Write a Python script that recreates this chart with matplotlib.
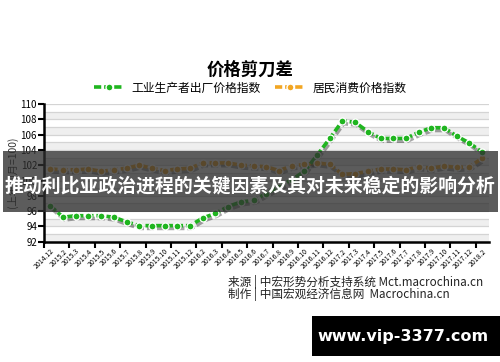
import numpy as np
import matplotlib.pyplot as plt
import matplotlib.patheffects as pe
from matplotlib.lines import Line2D
from matplotlib.patches import Rectangle

plt.rcParams['font.family'] = ['Noto Sans CJK SC', 'DejaVu Sans']

months = ['2014.12',
          '2015.2', '2015.3', '2015.4', '2015.5', '2015.6', '2015.7', '2015.8', '2015.9', '2015.10', '2015.11', '2015.12',
          '2016.2', '2016.3', '2016.4', '2016.5', '2016.6', '2016.7', '2016.8', '2016.9', '2016.10', '2016.11', '2016.12',
          '2017.2', '2017.3', '2017.4', '2017.5', '2017.6', '2017.7', '2017.8', '2017.9', '2017.10', '2017.11', '2017.12',
          '2018.2']
ppi = [96.7,
       95.2, 95.4, 95.4, 95.4, 95.2, 94.6, 94.1, 94.1, 94.1, 94.1, 94.1,
       95.1, 95.7, 96.6, 97.2, 97.4, 98.3, 99.2, 100.1, 101.2, 103.3, 105.5,
       107.8, 107.6, 106.4, 105.5, 105.5, 105.5, 106.3, 106.9, 106.9, 105.8, 104.9,
       103.7]
cpi = [101.5,
       101.4, 101.4, 101.5, 101.2, 101.4, 101.6, 102.0, 101.6, 101.3, 101.5, 101.6,
       102.3, 102.3, 102.3, 102.0, 101.9, 101.8, 101.3, 101.9, 102.1, 102.3, 102.1,
       100.8, 100.9, 101.2, 101.5, 101.5, 101.4, 101.8, 101.6, 101.9, 101.7, 101.8,
       102.9]
series_names = ['工业生产者出厂价格指数', '居民消费价格指数']
yticks = [92, 94, 96, 98, 100, 102, 104, 106, 108, 110]

green = '#1fb51f'
orange = '#f2a623'

fig = plt.figure(figsize=(5, 3.62), dpi=100)
ax = fig.add_axes([0.088, 0.3323, 0.889, 0.3804])

x = np.arange(len(months))

# striped background + grid
for v in range(92, 110, 2):
    ax.axhspan(v, v + 1, color='#efefef', zorder=0, lw=0)
for v in range(92, 111):
    ax.axhline(v, color='#d4d4d4', lw=0.9, zorder=0.5)

for vals, col in [(cpi, orange), (ppi, green)]:
    # shadow under the line only
    ax.plot(x, vals, color=col, lw=2.6, linestyle=(0, (2.0, 0.8)), zorder=2,
            path_effects=[pe.SimpleLineShadow(offset=(1, -2), shadow_color='k', alpha=0.35), pe.Normal()])
    ax.plot(x, vals, linestyle='none', marker='o', markersize=5, markerfacecolor=col,
            markeredgecolor='white', markeredgewidth=0.9, zorder=3)

ax.set_xlim(-0.5, len(months) - 0.5)
ax.set_ylim(92, 110)
ax.set_yticks(yticks)
ax.tick_params(axis='y', labelsize=7, length=4, width=1.5, pad=1, colors='black')
ax.set_xticks(x)
ax.set_xticklabels(months, rotation=45, ha='right', rotation_mode='anchor', fontsize=5)
ax.tick_params(axis='x', length=0, pad=4)
ax.set_xticks(np.arange(-0.5, len(months), 2), minor=True)
ax.tick_params(axis='x', which='minor', length=4, width=1.5)
for s in ['top', 'right']:
    ax.spines[s].set_visible(False)
ax.spines['left'].set_linewidth(1.8)
ax.spines['bottom'].set_linewidth(1.8)

fig.text(0.024, 0.525, '(上年同月=100)', rotation=90, ha='center', va='center', fontsize=7.5, color='#333333')

fig.text(0.5, 0.807, '价格剪刀差', ha='center', va='center', fontsize=12.5, fontweight='bold')
handles = [Line2D([], [], color=c, lw=2.6, linestyle=(0, (2.0, 0.8)), marker='o', markersize=5,
                  markerfacecolor=c, markeredgecolor='white') for c in (green, orange)]
fig.legend(handles, series_names, loc='center', bbox_to_anchor=(0.5, 1 - 88 / 362), ncol=2,
           frameon=False, fontsize=8.5, handlelength=2.6, columnspacing=1.2, handletextpad=0.6)

fig.text(0.456, 1 - 282 / 362, '来源 | 中宏形势分析支持系统 Mct.macrochina.cn', ha='left', va='center',
         fontsize=8.4, color='#222222')
fig.text(0.456, 1 - 294 / 362, '制作 | 中国宏观经济信息网  Macrochina.cn', ha='left', va='center',
         fontsize=8.4, color='#222222')

# overlay banner
fig.add_artist(Rectangle((0.006, 0.415), 0.99, 0.168, transform=fig.transFigure,
                         facecolor='#2e2e2e', alpha=0.78, edgecolor='none', zorder=10))
fig.text(0.5, 0.486, '推动利比亚政治进程的关键因素及其对未来稳定的影响分析', ha='center', va='center',
         fontsize=13.6, fontweight='bold', color='white', zorder=11)

fig.add_artist(Rectangle((0.624, 1 - 356 / 362), 0.376, 40 / 362, transform=fig.transFigure,
                         facecolor='black', edgecolor='none', zorder=10))
fig.text(0.807, 1 - 336 / 362, 'www.vip-3377.com', ha='center', va='center', fontsize=11.5,
         fontweight='bold', color='white', family='DejaVu Sans', zorder=11)

fig.savefig('out.png', dpi=100)
